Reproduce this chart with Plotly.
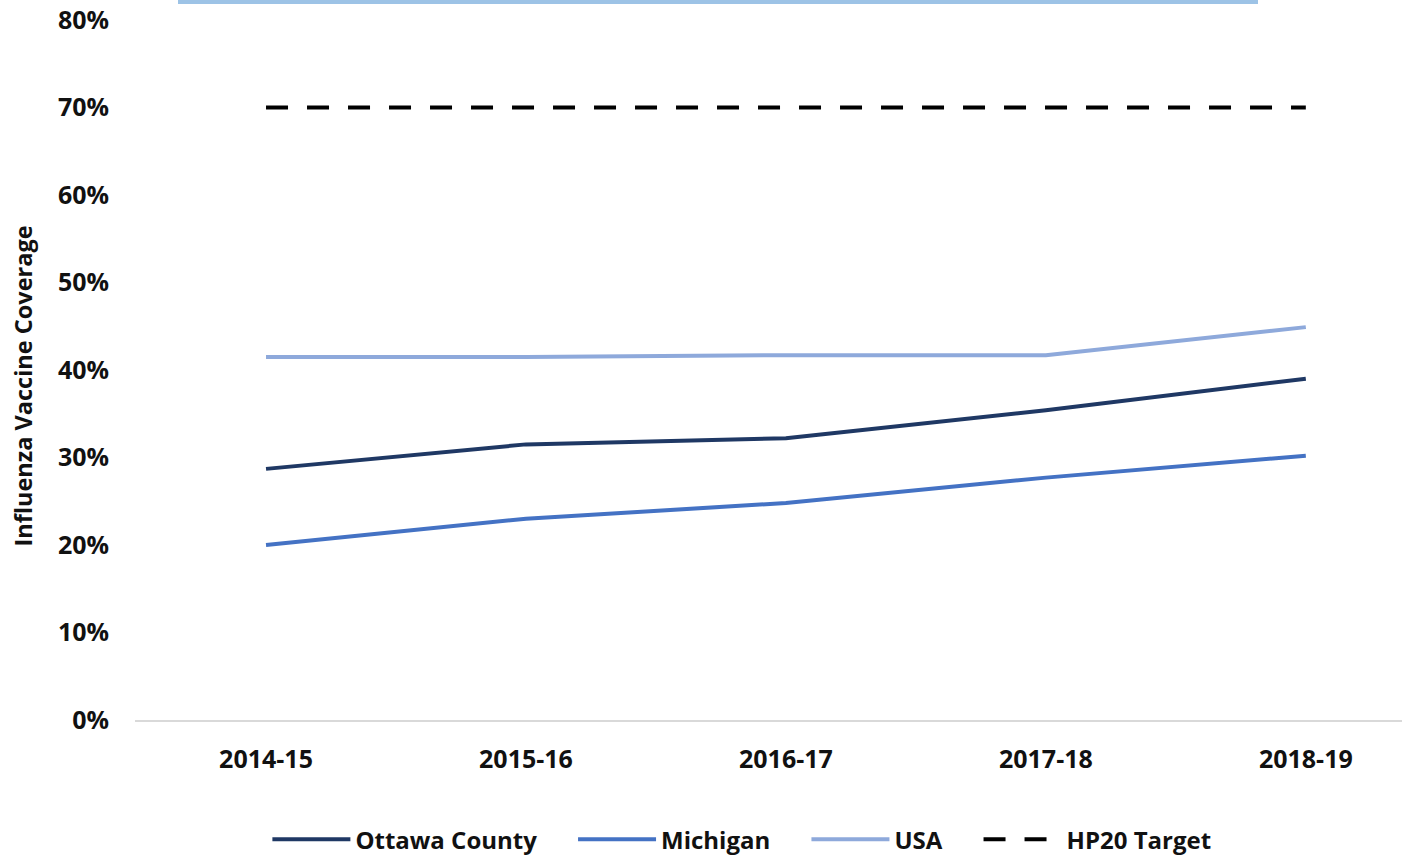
import plotly.graph_objects as go

seasons = ["2014-15", "2015-16", "2016-17", "2017-18", "2018-19"]
ottawa = [28.7, 31.5, 32.2, 35.4, 39.0]
michigan = [20.0, 23.0, 24.8, 27.7, 30.2]
usa = [41.5, 41.5, 41.7, 41.7, 44.9]
hp20 = [70, 70, 70, 70, 70]
y_ticks = [0, 10, 20, 30, 40, 50, 60, 70, 80]
series_names = ["Ottawa County", "Michigan", "USA", "HP20 Target"]

FONT = "Open Sans"
PAD = "\u00a0" * 5  # spacing between legend entries

fig = go.Figure()
fig.add_trace(go.Scatter(x=seasons, y=ottawa, mode="lines", name=series_names[0] + PAD,
                         line=dict(color="#1F3864", width=4)))
fig.add_trace(go.Scatter(x=seasons, y=michigan, mode="lines", name=series_names[1] + PAD,
                         line=dict(color="#4472C4", width=4)))
fig.add_trace(go.Scatter(x=seasons, y=usa, mode="lines", name=series_names[2] + PAD,
                         line=dict(color="#8EA9DB", width=4)))
fig.add_trace(go.Scatter(x=seasons, y=hp20, mode="lines", name=series_names[3],
                         line=dict(color="#000000", width=4, dash="22px,19px")))

# decorative light-blue strip at top (cropped frame of original image)
fig.add_shape(type="rect", xref="paper", yref="paper",
              x0=(178 - 135) / 1267, x1=(1258 - 135) / 1267,
              y0=1 + 16 / 700, y1=1 + 21 / 700,
              fillcolor="#9DC3E6", line=dict(width=0), layer="above")

fig.add_annotation(text="Influenza Vaccine Coverage", textangle=-90,
                   xref="paper", yref="paper", x=(22 - 135) / 1267, y=(720 - 386.5) / 700,
                   xanchor="center", yanchor="middle", showarrow=False,
                   font=dict(family=FONT, size=23.5, color="#111111", weight="bold"))

fig.update_layout(
    width=1408, height=857,
    margin=dict(l=135, r=6, t=20, b=137, autoexpand=False),
    paper_bgcolor="white", plot_bgcolor="white",
    font=dict(family=FONT, color="#111111"),
    showlegend=True,
    legend=dict(orientation="h", x=0.479, xanchor="center", y=-0.171, yanchor="middle",
                font=dict(family=FONT, size=24, color="#111111", weight="bold"),
                itemwidth=78, tracegroupgap=0),
    xaxis=dict(type="category", range=[-0.504, 4.37], showgrid=False, automargin=False,
               showline=True, linecolor="#D9D9D9", linewidth=2, zeroline=False,
               tickfont=dict(family=FONT, size=25, color="#111111", weight="bold"),
               ticks="", ticklabelstandoff=16),
    yaxis=dict(range=[0, 80], tickvals=y_ticks, ticktext=[f"{v}%" for v in y_ticks],
               showgrid=False, zeroline=False, showline=False, automargin=False,
               tickfont=dict(family=FONT, size=25, color="#111111", weight="bold"),
               ticks="", ticklabelstandoff=25),
)

fig.write_html("out.html", config={"displayModeBar": False},
               post_script="document.body.style.margin='0';document.body.style.overflow='hidden';")
